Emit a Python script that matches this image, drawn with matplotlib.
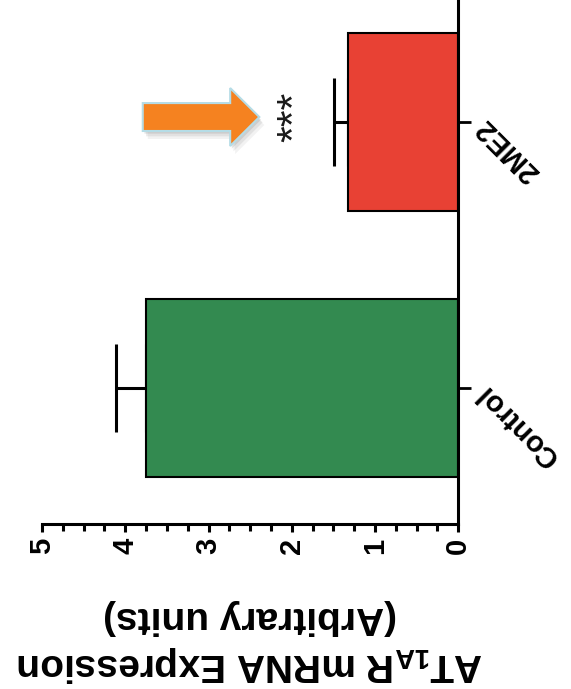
import numpy as np
import matplotlib
matplotlib.use("Agg")
import matplotlib.pyplot as plt
from matplotlib.patches import FancyArrow
from matplotlib.ticker import MultipleLocator

plt.rcParams['font.family'] = ['Liberation Sans', 'DejaVu Sans']
plt.rcParams['font.weight'] = 'bold'
plt.rcParams['mathtext.fontset'] = 'custom'
plt.rcParams['mathtext.rm'] = 'Liberation Sans:bold'
plt.rcParams['mathtext.bf'] = 'Liberation Sans:bold'
plt.rcParams['mathtext.default'] = 'bf'

# expression data
groups = ['Control', '2ME2']
means = [3.75, 1.33]
sem = [0.36, 0.16]
colors = ['#338A50', '#E84134']
xticks = [0, 1, 2, 3, 4, 5]

fig = plt.figure(figsize=(5.71, 6.89), dpi=100)
ax = fig.add_axes([0.0736, 0.2395, 0.729, 0.7605])

pos = np.arange(len(groups))
ax.errorbar(means, pos, xerr=[np.zeros(len(sem)), sem], fmt='none',
            ecolor='black', elinewidth=2.2, capsize=32, capthick=2.2, zorder=1)
ax.barh(pos, means, height=0.67, color=colors, edgecolor='black',
        linewidth=1.5, zorder=2)

ax.set_xlim(5, 0)
ax.set_ylim(-0.51, 1.46)

# spines: value axis at the bottom, category axis on the right
ax.spines['top'].set_visible(False)
ax.spines['left'].set_visible(False)
ax.spines['right'].set_linewidth(2.2)
ax.spines['bottom'].set_linewidth(2.2)

ax.set_xticks(xticks)
ax.set_xticklabels([str(t) for t in xticks], rotation=90, fontsize=21,
                   fontweight='bold')
ax.xaxis.set_minor_locator(MultipleLocator(0.25))
ax.tick_params(axis='x', which='major', length=6, width=2.2, pad=4)
ax.tick_params(axis='x', which='minor', length=5, width=2.2)

ax.yaxis.tick_right()
ax.set_yticks(pos)
ax.set_yticklabels(groups, rotation=135, rotation_mode='anchor',
                   ha='right', va='center', fontsize=21, fontweight='bold')
ax.tick_params(axis='y', length=9, width=2.0, pad=7)

ax.set_xlabel('AT$_{1A}$R mRNA Expression\n(Arbitrary units)', rotation=180,
              fontsize=28, fontweight='bold', labelpad=32, linespacing=1.35)

# significance marks
ax.text(1.96, 1.02, '***', rotation=90, ha='center', va='center',
        fontsize=31, fontweight='normal', color='#1a1a1a')

# highlight arrow with soft shadow
for off, a in [(0.06, 0.10), (0.04, 0.15), (0.02, 0.2)]:
    ax.add_patch(FancyArrow(3.79 - off, 1.02 - off * 0.5, -1.40, 0,
                            width=0.105, head_width=0.218, head_length=0.35,
                            length_includes_head=True, color='gray',
                            alpha=a, linewidth=0, zorder=3))
ax.add_patch(FancyArrow(3.79, 1.02, -1.40, 0, width=0.105, head_width=0.218,
                        head_length=0.35, length_includes_head=True,
                        facecolor='#F58220', edgecolor='#B5DCE6',
                        linewidth=1.5, zorder=4))

fig.savefig('out.png', dpi=100)
